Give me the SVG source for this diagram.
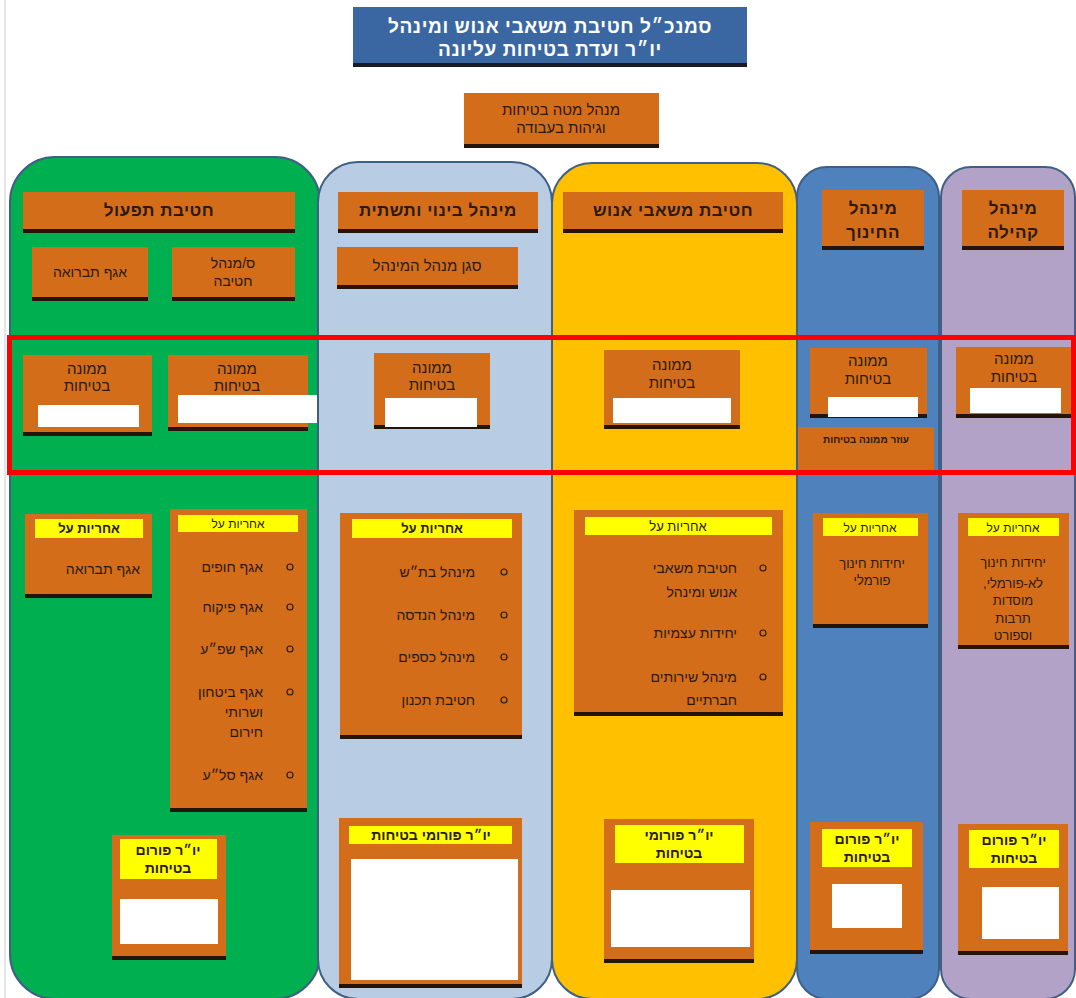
<svg xmlns="http://www.w3.org/2000/svg" width="1076" height="998" viewBox="0 0 1076 998">
<style>
.col{stroke:#3f5f85;stroke-width:2}
.o{fill:#d46d1a}
.sh{fill:#24140a}
.y{fill:#ffff00}
.w{fill:#ffffff}
.t{font-family:"Liberation Sans","DejaVu Sans",sans-serif;fill:#2a1a10;direction:rtl}
.c{text-anchor:middle}
.r{text-anchor:start}
.b{font-weight:bold}
.s17{font-size:17px;letter-spacing:0.5px}
.s15{font-size:15px}
.s14{font-size:14px}
.s13{font-size:13px}
.s12{font-size:12px}
.s10{font-size:10px}
.bul{fill:none;stroke:#2a1a10;stroke-width:1.2}
</style>
<rect x="0" y="0" width="1076" height="998" fill="#ffffff"/>
<line x1="5" y1="0" x2="5" y2="998" stroke="#d8dde6" stroke-width="1.5"/>

<!-- columns -->
<g id="columns">
<rect id="col-tifol" class="col" x="10" y="157" width="310" height="842" rx="45" fill="#00b050"/>
<rect id="col-binui" class="col" x="318" y="162" width="234" height="837" rx="40" fill="#b8cce4"/>
<rect id="col-enosh" class="col" x="552" y="163" width="245" height="836" rx="40" fill="#ffc000"/>
<rect id="col-hinuch" class="col" x="797" y="167" width="142" height="832" rx="30" fill="#4f81bd"/>
<rect id="col-kehila" class="col" x="941" y="167" width="134" height="832" rx="30" fill="#b3a2c7"/>
</g>

<g id="connectors"></g>

<!-- top -->
<g id="title">
<rect x="353" y="7" width="394" height="57" fill="#3a67a2"/>
<rect x="353" y="63" width="394" height="4" fill="#1a1a24"/>
<text class="t c b" x="550" y="33" font-size="19" letter-spacing="0.6" style="fill:#ffffff">סמנכ״ל חטיבת משאבי אנוש ומינהל</text>
<text class="t c b" x="550" y="56" font-size="19" letter-spacing="0.6" style="fill:#ffffff">יו״ר ועדת בטיחות עליונה</text>
</g>
<g id="mate">
<rect class="o" x="464" y="93" width="195" height="52"/>
<rect class="sh" x="464" y="144" width="195" height="4"/>
<text class="t c s15" x="561" y="115">מנהל מטה בטיחות</text>
<text class="t c s15" x="561" y="133">וגיהות בעבודה</text>
</g>

<!-- column 1 -->
<g id="n-tifol-head">
<rect class="o" x="23" y="192" width="272" height="38"/>
<rect class="sh" x="23" y="229" width="272" height="4"/>
<text class="t c b s17" x="159" y="216">חטיבת תפעול</text>
</g>
<g id="n-tifol-tavrua">
<rect class="o" x="32" y="247" width="116" height="51"/>
<rect class="sh" x="32" y="297" width="116" height="4"/>
<text class="t c s14" x="90" y="277">אגף תברואה</text>
</g>
<g id="n-tifol-deputy">
<rect class="o" x="172" y="247" width="123" height="51"/>
<rect class="sh" x="172" y="297" width="123" height="4"/>
<text class="t c s14" x="233" y="268">ס/מנהל</text>
<text class="t c s14" x="233" y="286">חטיבה</text>
</g>
<g id="n-tifol-safety1">
<rect class="o" x="23" y="355" width="129" height="78"/>
<rect class="sh" x="23" y="432" width="129" height="4"/>
<text class="t c s15" x="87" y="374">ממונה</text>
<text class="t c s15" x="87" y="391">בטיחות</text>
<rect class="w" x="38" y="405" width="101" height="22"/>
</g>
<g id="n-tifol-safety2">
<rect class="o" x="168" y="355" width="140" height="73"/>
<rect class="sh" x="168" y="427" width="140" height="4"/>
<text class="t c s15" x="237" y="374">ממונה</text>
<text class="t c s15" x="237" y="391">בטיחות</text>
<rect class="w" x="178" y="395" width="139" height="28"/>
</g>
<g id="n-tifol-resp1">
<rect class="o" x="25" y="514" width="127" height="81"/>
<rect class="sh" x="25" y="594" width="127" height="4"/>
<rect class="y" x="35" y="519" width="108" height="19"/>
<text class="t c b s13" x="89" y="533">אחריות על</text>
<text class="t r s14" x="140" y="574">אגף תברואה</text>
</g>
<g id="n-tifol-resp2">
<rect class="o" x="170" y="509" width="137" height="300"/>
<rect class="sh" x="170" y="808" width="137" height="4"/>
<rect class="y" x="178" y="515" width="120" height="17"/>
<text class="t c s12" x="238" y="528">אחריות על</text>
<circle class="bul" cx="290" cy="567" r="3"/>
<text class="t r s14" x="263" y="572">אגף חופים</text>
<circle class="bul" cx="290" cy="607" r="3"/>
<text class="t r s14" x="263" y="612">אגף פיקוח</text>
<circle class="bul" cx="290" cy="649" r="3"/>
<text class="t r s14" x="263" y="654">אגף שפ״ע</text>
<circle class="bul" cx="290" cy="692" r="3"/>
<text class="t r s14" x="263" y="697">אגף ביטחון</text>
<text class="t r s14" x="263" y="717">ושרותי</text>
<text class="t r s14" x="263" y="737">חירום</text>
<circle class="bul" cx="290" cy="775" r="3"/>
<text class="t r s14" x="263" y="780">אגף סל״ע</text>
</g>
<g id="n-tifol-forum">
<rect class="o" x="112" y="835" width="114" height="122"/>
<rect class="sh" x="112" y="956" width="114" height="4"/>
<rect class="y" x="120" y="839" width="97" height="40"/>
<text class="t c b s14" x="168" y="855">יו״ר פורום</text>
<text class="t c b s14" x="168" y="873">בטיחות</text>
<rect class="w" x="120" y="899" width="98" height="45"/>
</g>

<!-- column 2 -->
<g id="n-binui-head">
<rect class="o" x="338" y="192" width="200" height="38"/>
<rect class="sh" x="338" y="229" width="200" height="4"/>
<text class="t c b s17" x="438" y="216">מינהל בינוי ותשתית</text>
</g>
<g id="n-binui-deputy">
<rect class="o" x="337" y="247" width="181" height="39"/>
<rect class="sh" x="337" y="285" width="181" height="4"/>
<text class="t c s15" x="427" y="271">סגן מנהל המינהל</text>
</g>
<g id="n-binui-safety">
<rect class="o" x="374" y="353" width="116" height="73"/>
<rect class="sh" x="374" y="425" width="116" height="4"/>
<text class="t c s15" x="432" y="373">ממונה</text>
<text class="t c s15" x="432" y="390">בטיחות</text>
<rect class="w" x="385" y="398" width="92" height="29"/>
</g>
<g id="n-binui-resp">
<rect class="o" x="340" y="513" width="182" height="223"/>
<rect class="sh" x="340" y="735" width="182" height="4"/>
<rect class="y" x="352" y="519" width="160" height="19"/>
<text class="t c b s13" x="432" y="533">אחריות על</text>
<circle class="bul" cx="504" cy="572" r="3"/>
<text class="t r s14" x="475" y="577">מינהל בת״ש</text>
<circle class="bul" cx="504" cy="615" r="3"/>
<text class="t r s14" x="475" y="620">מינהל הנדסה</text>
<circle class="bul" cx="504" cy="657" r="3"/>
<text class="t r s14" x="475" y="662">מינהל כספים</text>
<circle class="bul" cx="504" cy="700" r="3"/>
<text class="t r s14" x="475" y="705">חטיבת תכנון</text>
</g>
<g id="n-binui-forum">
<rect class="o" x="339" y="818" width="183" height="167"/>
<rect class="sh" x="339" y="984" width="183" height="4"/>
<rect class="y" x="349" y="826" width="163" height="18"/>
<text class="t c b s14" x="431" y="840">יו״ר פורומי בטיחות</text>
<rect class="w" x="351" y="859" width="167" height="121"/>
</g>

<!-- column 3 -->
<g id="n-enosh-head">
<rect class="o" x="563" y="192" width="220" height="38"/>
<rect class="sh" x="563" y="229" width="220" height="4"/>
<text class="t c b s17" x="673" y="216">חטיבת משאבי אנוש</text>
</g>
<g id="n-enosh-safety">
<rect class="o" x="604" y="350" width="136" height="76"/>
<rect class="sh" x="604" y="425" width="136" height="4"/>
<text class="t c s15" x="672" y="370">ממונה</text>
<text class="t c s15" x="672" y="388">בטיחות</text>
<rect class="w" x="613" y="398" width="118" height="25"/>
</g>
<g id="n-enosh-resp">
<rect class="o" x="574" y="510" width="209" height="203"/>
<rect class="sh" x="574" y="712" width="209" height="4"/>
<rect class="y" x="585" y="517" width="187" height="18"/>
<text class="t c s13" x="678" y="531">אחריות על</text>
<circle class="bul" cx="763" cy="568" r="3"/>
<text class="t r s14" x="737" y="573">חטיבת משאבי</text>
<text class="t r s14" x="737" y="597">אנוש ומינהל</text>
<circle class="bul" cx="763" cy="633" r="3"/>
<text class="t r s14" x="737" y="638">יחידות עצמיות</text>
<circle class="bul" cx="763" cy="677" r="3"/>
<text class="t r s14" x="737" y="682">מינהל שירותים</text>
<text class="t r s14" x="737" y="705">חברתיים</text>
</g>
<g id="n-enosh-forum">
<rect class="o" x="604" y="819" width="150" height="141"/>
<rect class="sh" x="604" y="959" width="150" height="4"/>
<rect class="y" x="615" y="825" width="129" height="38"/>
<text class="t c b s14" x="679" y="840">יו״ר פורומי</text>
<text class="t c b s14" x="679" y="858">בטיחות</text>
<rect class="w" x="611" y="890" width="139" height="57"/>
</g>

<!-- column 4 -->
<g id="n-hinuch-head">
<rect class="o" x="822" y="190" width="102" height="57"/>
<rect class="sh" x="822" y="246" width="102" height="4"/>
<text class="t c b s17" x="873" y="214">מינהל</text>
<text class="t c b s17" x="873" y="238">החינוך</text>
</g>
<g id="n-hinuch-safety">
<rect class="o" x="810" y="348" width="117" height="67"/>
<rect class="sh" x="810" y="414" width="117" height="4"/>
<text class="t c s15" x="868" y="366">ממונה</text>
<text class="t c s15" x="868" y="384">בטיחות</text>
<rect class="w" x="828" y="397" width="90" height="20"/>
</g>
<g id="n-hinuch-assistant">
<rect class="o" x="798" y="427" width="136" height="44"/>
<text class="t c b s10" x="866" y="443">עוזר ממונה בטיחות</text>
</g>
<g id="n-hinuch-resp">
<rect class="o" x="813" y="513" width="115" height="112"/>
<rect class="sh" x="813" y="624" width="115" height="4"/>
<rect class="y" x="823" y="518" width="95" height="18"/>
<text class="t c s12" x="870" y="532">אחריות על</text>
<text class="t c s13" x="872" y="568">יחידות חינוך</text>
<text class="t c s13" x="872" y="585">פורמלי</text>
</g>
<g id="n-hinuch-forum">
<rect class="o" x="810" y="822" width="113" height="129"/>
<rect class="sh" x="810" y="950" width="113" height="4"/>
<rect class="y" x="822" y="829" width="90" height="38"/>
<text class="t c b s14" x="867" y="844">יו״ר פורום</text>
<text class="t c b s14" x="867" y="862">בטיחות</text>
<rect class="w" x="832" y="884" width="70" height="44"/>
</g>

<!-- column 5 -->
<g id="n-kehila-head">
<rect class="o" x="962" y="190" width="102" height="57"/>
<rect class="sh" x="962" y="246" width="102" height="4"/>
<text class="t c b s17" x="1013" y="214">מינהל</text>
<text class="t c b s17" x="1013" y="238">קהילה</text>
</g>
<g id="n-kehila-safety">
<rect class="o" x="956" y="347" width="116" height="68"/>
<rect class="sh" x="956" y="414" width="116" height="4"/>
<text class="t c s15" x="1014" y="364">ממונה</text>
<text class="t c s15" x="1014" y="382">בטיחות</text>
<rect class="w" x="970" y="388" width="91" height="25"/>
</g>
<g id="n-kehila-resp">
<rect class="o" x="958" y="513" width="111" height="133"/>
<rect class="sh" x="958" y="645" width="111" height="4"/>
<rect class="y" x="968" y="518" width="91" height="18"/>
<text class="t c s12" x="1013" y="532">אחריות על</text>
<text class="t c s13" x="1013" y="567">יחידות חינוך</text>
<text class="t c s13" x="1013" y="588">לא-פורמלי,</text>
<text class="t c s13" x="1013" y="605">מוסדות</text>
<text class="t c s13" x="1013" y="623">תרבות</text>
<text class="t c s13" x="1013" y="640">וספורט</text>
</g>
<g id="n-kehila-forum">
<rect class="o" x="958" y="824" width="110" height="128"/>
<rect class="sh" x="958" y="951" width="110" height="4"/>
<rect class="y" x="969" y="830" width="90" height="38"/>
<text class="t c b s14" x="1014" y="845">יו״ר פורום</text>
<text class="t c b s14" x="1014" y="863">בטיחות</text>
<rect class="w" x="982" y="887" width="77" height="52"/>
</g>

<!-- highlight frame -->
<rect id="highlight" x="9.5" y="337.5" width="1064" height="135" fill="none" stroke="#ff0000" stroke-width="5"/>
</svg>
